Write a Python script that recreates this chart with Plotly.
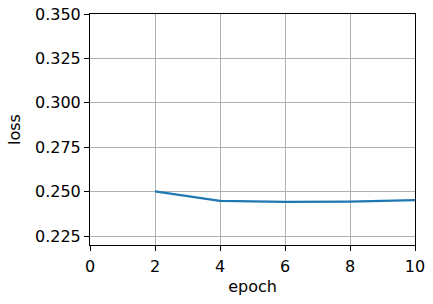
import plotly.graph_objects as go

epochs = [2, 4, 6, 8, 10]
loss = [0.2502, 0.2448, 0.2443, 0.2444, 0.2452]
x_ticks = [0, 2, 4, 6, 8, 10]
y_ticks = [0.225, 0.250, 0.275, 0.300, 0.325, 0.350]

fig = go.Figure()
fig.add_trace(go.Scatter(x=epochs, y=loss, mode="lines",
                         line=dict(color="#1f77b4", width=2.2)))

axis_common = dict(showline=True, linecolor="black", linewidth=1, mirror=True,
                   ticks="outside", ticklen=5, tickcolor="black", tickwidth=1,
                   showgrid=True, gridcolor="#b0b0b0", gridwidth=1, automargin=False,
                   zeroline=False, tickfont=dict(family="DejaVu Sans", size=16, color="black"))

fig.update_layout(
    width=433, height=304,
    margin=dict(l=90, r=18, t=14, b=59),
    paper_bgcolor="white", plot_bgcolor="white",
    showlegend=False,
    font=dict(family="DejaVu Sans", size=16, color="black"),
    xaxis=dict(range=[0, 10], tickvals=x_ticks, ticktext=[str(v) for v in x_ticks],
               ticklabelstandoff=2,
               title=dict(text="epoch", standoff=5, font=dict(size=16)), **axis_common),
    yaxis=dict(range=[0.22, 0.35], tickvals=y_ticks, ticktext=[f"{v:.3f}" for v in y_ticks],
               title=dict(text="loss", standoff=10, font=dict(size=16)), **axis_common),
)

fig.write_html("out.html")
